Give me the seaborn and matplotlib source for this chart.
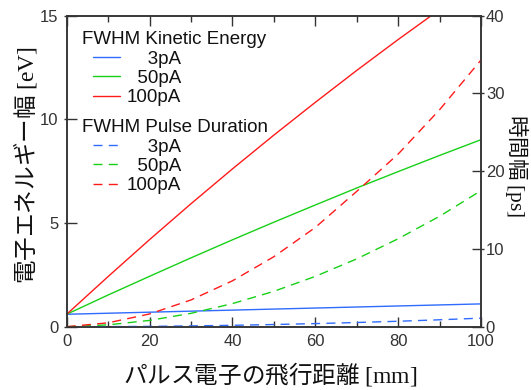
import numpy as np
import pandas as pd
import matplotlib
matplotlib.use("Agg")
import matplotlib.pyplot as plt
import seaborn as sns
from matplotlib.legend_handler import HandlerLine2D
from matplotlib.ticker import FixedLocator, MultipleLocator

# ---------------- data ----------------
distance_mm = [0, 10, 20, 30, 40, 50, 60, 70, 80, 90, 100]
currents = ["3pA", "50pA", "100pA"]

ke_3pA = [0.60, 0.65, 0.70, 0.75, 0.80, 0.85, 0.90, 0.95, 1.00, 1.05, 1.10]
ke_50pA = [0.60, 1.53, 2.43, 3.32, 4.19, 5.04, 5.87, 6.69, 7.48, 8.26, 9.02]
ke_100pA = [0.60, 2.42, 4.20, 5.93, 7.61, 9.24, 10.82, 12.36, 13.85, 15.29, 16.68]

pd_3pA = [0.00, 0.01, 0.04, 0.10, 0.18, 0.28, 0.40, 0.54, 0.70, 0.89, 1.10]
pd_50pA = [0.00, 0.24, 0.81, 1.72, 2.97, 4.55, 6.47, 8.72, 11.31, 14.20, 17.50]
pd_100pA = [0.00, 0.50, 1.64, 3.44, 5.90, 9.00, 12.76, 17.40, 22.20, 27.90, 34.30]

left_ticks = [0, 5, 10, 15]
right_ticks = [0, 10, 20, 30, 40]
x_ticks = [0, 20, 40, 60, 80, 100]

colors = {"3pA": "#2f6bff", "50pA": "#18d018", "100pA": "#ff1a1a"}

# ---------------- style ----------------
sns.set_style("white")
plt.rcParams["font.family"] = ["Liberation Sans", "DejaVu Sans"]
plt.rcParams["mathtext.fontset"] = "custom"
plt.rcParams["mathtext.rm"] = "Liberation Serif"
plt.rcParams["mathtext.it"] = "Liberation Serif:italic"

ke = pd.DataFrame({"x": distance_mm, "3pA": ke_3pA, "50pA": ke_50pA, "100pA": ke_100pA})
pdur = pd.DataFrame({"x": distance_mm, "3pA": pd_3pA, "50pA": pd_50pA, "100pA": pd_100pA})

fig = plt.figure(figsize=(5.31, 3.90), dpi=100)
ax = fig.add_axes([0.1256, 0.1623, 0.7802, 0.7974])
ax2 = ax.twinx()

lw = 1.0
dash = (6.5, 4.5)
solid_handles, dashed_handles = [], []
for c in currents:
    sns.lineplot(data=ke, x="x", y=c, ax=ax, color=colors[c], lw=lw, legend=False)
    solid_handles.append(ax.get_lines()[-1])
for c in currents:
    sns.lineplot(data=pdur, x="x", y=c, ax=ax2, color=colors[c], lw=lw, legend=False)
    ln = ax2.get_lines()[-1]
    ln.set_dashes(dash)
    dashed_handles.append(ln)

ax.set_xlim(0, 100)
ax.set_ylim(0, 15)
ax2.set_ylim(0, 40)

spine_col = "#333333"
for a in (ax, ax2):
    for s in a.spines.values():
        s.set_color(spine_col)
        s.set_linewidth(1.1)

tick_font = dict(labelsize=12, labelcolor="#333333", colors=spine_col)
ax.set_xticks(x_ticks)
ax.xaxis.set_minor_locator(MultipleLocator(10))
ax.tick_params(axis="x", which="major", direction="in", length=7, width=1.0,
               top=True, bottom=True, pad=5, **tick_font)
ax.tick_params(axis="x", which="minor", direction="in", length=4, width=1.0,
               top=True, bottom=True, colors=spine_col)

ax.set_yticks(left_ticks)
ax.yaxis.set_minor_locator(FixedLocator(left_ticks))
ax.yaxis.remove_overlapping_locs = False
ax.tick_params(axis="y", which="major", direction="in", length=7, width=1.0,
               left=True, right=False, pad=6, **tick_font)
ax.tick_params(axis="y", which="minor", direction="out", length=2.5, width=1.0,
               left=True, right=False, colors=spine_col)

ax2.set_yticks(right_ticks)
ax2.yaxis.set_minor_locator(FixedLocator(right_ticks))
ax2.yaxis.remove_overlapping_locs = False
ax2.tick_params(axis="y", which="major", direction="in", length=6.5, width=1.0,
                right=True, left=False, pad=3.5, **tick_font)
ax2.tick_params(axis="y", which="minor", direction="out", length=2.5, width=1.0,
                right=True, left=False, colors=spine_col)

cjk = ["Noto Sans CJK JP", "DejaVu Sans"]
lab_size = 17
ax.set_xlabel("パルス電子の飛行距離 $\\mathrm{[mm]}$", fontsize=lab_size, family=cjk,
              color="#111111")
ax.xaxis.set_label_coords(0.49, -0.152)
ax.xaxis.label.set_va("center")

ax.set_ylabel("電子エネルギー幅 $\\mathrm{[eV]}$", fontsize=lab_size, family=cjk,
              color="#111111")
ax.yaxis.set_label_coords(-0.1006, 0.52)
ax.yaxis.label.set_rotation_mode("anchor")
ax.yaxis.label.set_va("center")
ax.yaxis.label.set_ha("center")

ax2.set_ylabel("時間幅 $\\mathrm{[ps]}$", fontsize=15.5, family=cjk, rotation=270,
               color="#111111")
ax2.yaxis.set_label_coords(1.088, 0.517)
ax2.yaxis.label.set_rotation_mode("anchor")
ax2.yaxis.label.set_va("center")
ax2.yaxis.label.set_ha("center")


class IndentHandler(HandlerLine2D):
    def __init__(self, indent, **kw):
        super().__init__(**kw)
        self.indent = indent

    def get_xdata(self, legend, xdescent, ydescent, width, height, fontsize):
        return ([-xdescent + self.indent * fontsize, -xdescent + width],
                [-xdescent + 0.5 * width])


pad = "\u2007"
labels = [pad * 2 + "3pA", pad + "50pA", "100pA"]
leg_kw = dict(loc="upper left", frameon=False, fontsize=13.5, title_fontsize=13.5,
              alignment="left", handlelength=2.05, handletextpad=0.36,
              labelspacing=0.12, borderpad=0, borderaxespad=0,
              handler_map={h: IndentHandler(0.63) for h in solid_handles + dashed_handles})
leg1 = ax2.legend(handles=solid_handles, labels=labels, title="FWHM Kinetic Energy",
                  bbox_to_anchor=(0.036, 0.950), **leg_kw)
ax2.add_artist(leg1)
leg2 = ax2.legend(handles=dashed_handles, labels=labels, title="FWHM Pulse Duration",
                  bbox_to_anchor=(0.036, 0.667), **leg_kw)
for lg in (leg1, leg2):
    for t in lg.get_texts():
        t.set_color("#111111")
    lg.get_title().set_color("#111111")

fig.savefig("out.png", dpi=100)
